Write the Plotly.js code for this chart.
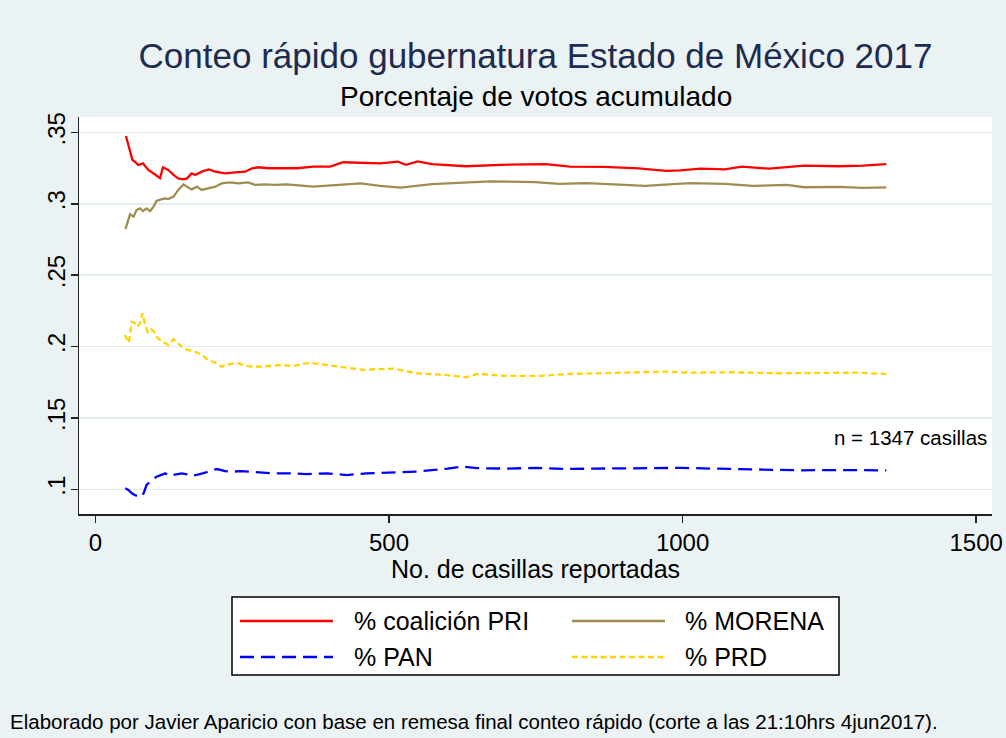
<!DOCTYPE html>
<html>
<head>
<meta charset="utf-8">
<script src="https://cdn.plot.ly/plotly-3.0.1.min.js"></script>
<style>html,body{margin:0;padding:0;background:#fff;}#chart{width:1006px;height:738px;}</style>
</head>
<body>
<div id="chart"></div>
<script>
// ---- Data ----
const priX = [52,55,59,63,67,73,81,90,101,107,110,115,119,124,133,141,150,156,164,170,181,193,204,221,238,255,267,278,295,314,343,371,400,422,456,485,515,529,549,573,631,690,767,808,866,925,972,996,1031,1072,1101,1148,1207,1266,1307,1347];
const priY = [.3475,.3424,.3377,.3307,.3295,.3272,.3283,.3237,.3207,.3190,.3180,.3255,.3249,.3237,.3202,.3178,.3171,.3178,.3213,.3202,.3225,.3241,.3225,.3213,.3220,.3225,.3249,.3256,.3249,.3249,.3249,.3260,.3260,.3291,.3288,.3283,.3295,.3273,.3297,.3278,.3263,.3273,.3278,.3260,.3258,.3248,.3230,.3234,.3246,.3241,.3260,.3246,.3268,.3263,.3268,.3278];

const morX = [51,55,59,65,70,76,81,87,93,99,104,113,119,124,133,141,150,156,164,173,181,192,204,215,229,243,260,272,289,305,326,371,405,451,485,520,573,631,672,749,790,837,896,937,984,1013,1072,1119,1178,1207,1266,1307,1347];
const morY = [.2823,.2875,.2926,.2910,.2956,.2968,.2949,.2968,.2949,.2980,.3020,.3033,.3038,.3033,.3050,.3097,.3136,.3120,.3101,.3120,.3097,.3108,.3120,.3143,.3150,.3143,.3150,.3132,.3136,.3132,.3136,.3120,.3132,.3143,.3125,.3113,.3138,.3150,.3157,.3152,.3140,.3145,.3133,.3125,.3138,.3145,.3140,.3125,.3133,.3116,.3118,.3112,.3115];

const panX = [51,56,62,67,76,82,87,96,104,113,119,124,136,147,156,164,176,187,198,207,221,232,249,266,283,300,326,360,394,428,462,496,550,600,625,650,700,750,800,850,900,950,1000,1050,1100,1150,1200,1250,1300,1347];
const panY = [.1007,.0995,.0972,.0960,.0945,.0972,.1030,.1065,.1088,.1100,.1112,.1095,.1105,.1112,.1105,.1095,.1105,.1116,.1135,.1142,.1128,.1123,.1128,.1123,.1119,.1112,.1112,.1107,.1112,.1100,.1112,.1116,.1125,.1145,.1160,.1148,.1145,.1150,.1142,.1145,.1148,.1152,.1150,.1145,.1142,.1135,.1133,.1135,.1133,.1133];

const prdX = [50,57,62,67,72,76,80,84,89,95,100,106,113,119,124,133,141,150,158,170,181,192,204,215,229,243,258,266,280,314,337,365,382,405,428,456,474,491,508,547,596,631,652,701,757,806,876,932,967,1016,1086,1156,1227,1297,1347];
const prdY = [.2081,.2027,.2174,.2163,.2139,.2163,.2233,.2163,.2100,.2121,.2104,.2058,.2039,.2023,.2011,.2051,.2023,.1988,.1976,.1964,.1941,.1906,.1887,.1859,.1878,.1883,.1864,.1859,.1859,.1870,.1864,.1887,.1878,.1864,.1855,.1836,.1841,.1841,.1845,.1813,.1801,.1785,.1808,.1794,.1794,.1808,.1813,.1820,.1824,.1817,.1820,.1813,.1813,.1817,.1808];

const seriesNames = ["% coalición PRI", "% MORENA", "% PAN", "% PRD"];
const yTickVals = [0.1, 0.15, 0.2, 0.25, 0.3, 0.35];
const yTickText = [".1", ".15", ".2", ".25", ".3", ".35"];
const xTickVals = [0, 500, 1000, 1500];
const xTickText = ["0", "500", "1000", "1500"];

// ---- Styles ----
const colors = ["#FF0000", "#9F8D50", "#0000FF", "#FFD200"];
const dashes = ["solid", "solid", "14px,7px", "6px,3.5px"];
const LW = 2.3;
const BG = "#EAF2F3";
const FONT = "Liberation Sans, Arial, sans-serif";

// plot area in pixels
const L = 79, R = 992, T = 117, B = 514;
const px = x => (x - L) / (R - L);
const py = y => (B - y) / (B - T);

const xs = [priX, morX, panX, prdX];
const ys = [priY, morY, panY, prdY];
const traces = xs.map((x, i) => ({
  x: x, y: ys[i], type: "scatter", mode: "lines", name: seriesNames[i],
  line: {color: colors[i], width: LW, dash: dashes[i]}, showlegend: false, hoverinfo: "skip"
}));

// legend (drawn manually, two columns)
const legRows = [621, 657];
const legCols = [[240, 333, 352], [572, 665, 683]];
const shapes = [
  {type: "rect", xref: "paper", yref: "paper", x0: px(232), x1: px(839), y0: py(597), y1: py(675),
   fillcolor: "#FFFFFF", line: {color: "#000000", width: 1.5}, layer: "above"}
];
const annotations = [];
seriesNames.forEach((n, i) => {
  const r = Math.floor(i / 2), c = i % 2;
  shapes.push({type: "line", xref: "paper", yref: "paper",
    x0: px(legCols[c][0]), x1: px(legCols[c][1]), y0: py(legRows[r]), y1: py(legRows[r]),
    line: {color: colors[i], width: LW, dash: dashes[i]}, layer: "above"});
  annotations.push({xref: "paper", yref: "paper", x: px(legCols[c][2]), y: py(legRows[r]),
    xanchor: "left", yanchor: "middle", text: n, showarrow: false,
    font: {family: FONT, size: 25, color: "#000"}});
});

annotations.push({xref: "paper", yref: "paper", x: 0.5, y: py(97), xanchor: "center", yanchor: "middle",
  text: "Porcentaje de votos acumulado", showarrow: false, font: {family: FONT, size: 28, color: "#000"}});
annotations.push({xref: "paper", yref: "paper", x: 0.5, y: py(569), xanchor: "center", yanchor: "middle",
  text: "No. de casillas reportadas", showarrow: false, font: {family: FONT, size: 25, color: "#000"}});
annotations.push({xref: "paper", yref: "paper", x: px(989), y: py(437), xanchor: "right", yanchor: "middle",
  text: "n = 1347 casillas", showarrow: false, font: {family: FONT, size: 20.5, color: "#000"}});
annotations.push({xref: "paper", yref: "paper", x: px(8), y: py(721), xanchor: "left", yanchor: "middle",
  text: "Elaborado por Javier Aparicio con base en remesa final conteo rápido (corte a las 21:10hrs 4jun2017).",
  showarrow: false, font: {family: FONT, size: 20.5, color: "#000"}});

const layout = {
  width: 1006, height: 738,
  margin: {l: L, r: 1006 - R, t: T, b: 738 - B, pad: 0},
  paper_bgcolor: BG, plot_bgcolor: "#FFFFFF",
  title: {text: "Conteo rápido gubernatura Estado de México 2017", x: 0.5, xref: "paper",
    y: 1 - 56 / 738, yref: "container", yanchor: "middle",
    font: {family: FONT, size: 35, color: "#1E2B50"}},
  xaxis: {range: [-28, 1527], tickvals: xTickVals, ticktext: xTickText, showgrid: false, zeroline: false,
    showline: true, linecolor: "#222", linewidth: 1.5, ticks: "outside", ticklen: 7, tickwidth: 1.5, tickcolor: "#222",
    tickfont: {family: FONT, size: 24, color: "#000"}},
  yaxis: {range: [0.0827, 0.3608], tickvals: yTickVals, ticktext: yTickText, tickangle: -90,
    ticklabelstandoff: -4,
    showgrid: true, gridcolor: "#E3EDF0", gridwidth: 1.5, zeroline: false,
    showline: true, linecolor: "#222", linewidth: 1.5, ticks: "outside", ticklen: 7, tickwidth: 1.5, tickcolor: "#222",
    tickfont: {family: FONT, size: 24, color: "#000"}},
  shapes: shapes, annotations: annotations, showlegend: false
};

Plotly.newPlot("chart", traces, layout, {displayModeBar: false, staticPlot: true});
</script>
</body>
</html>
